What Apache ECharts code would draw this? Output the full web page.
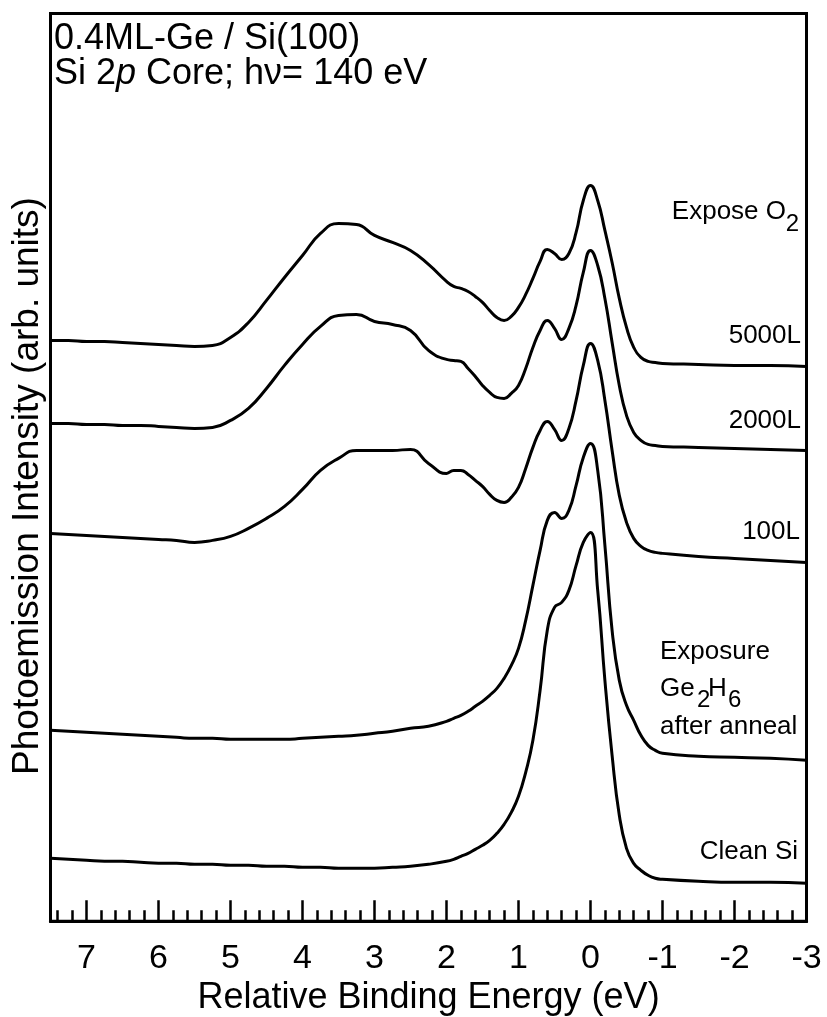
<!DOCTYPE html>
<html>
<head>
<meta charset="utf-8">
<script src="https://cdn.jsdelivr.net/npm/echarts@6/dist/echarts.min.js"></script>
<style>
  html, body { margin: 0; padding: 0; background: #fff; }
  #chart { width: 827px; height: 1017px; }
</style>
</head>
<body>
<div id="chart"></div>
<script>
// Relative binding energy (eV) sampling shared by all spectra
const energy = [
  7.5, 7.25, 7.0, 6.75, 6.5, 6.25, 6.0, 5.75, 5.5, 5.25, 5.0, 4.75, 4.5, 4.25, 4.0, 3.75,
  3.5, 3.25, 3.0, 2.75, 2.5, 2.25,
  2.0, 1.9, 1.8, 1.7, 1.6, 1.5, 1.4, 1.3, 1.2, 1.1, 1.0,
  0.9, 0.8, 0.7, 0.6, 0.5, 0.4, 0.3, 0.2, 0.1, 0.0,
  -0.1, -0.2, -0.3, -0.4, -0.5, -0.6, -0.7, -0.8, -0.9, -1.0,
  -1.5, -2.0, -2.5, -3.0
];

// Si 2p intensities (arb. units, vertically offset), one per exposure step
const int5000L = [
  581, 581, 580, 580, 579, 578, 577, 576, 575, 576, 584, 599, 621, 644, 666, 688,
  698, 697, 686, 679, 671, 657,
  640, 635, 633, 630, 625, 619, 611, 604, 601, 605, 614,
  627, 643, 660, 672, 668, 662, 668, 689, 721, 736,
  721, 691, 659, 623, 594, 574, 564, 560, 559, 558,
  557, 556, 556, 555
];
const int2000L = [
  498, 498, 497, 497, 496, 496, 495, 494, 493, 494, 501, 513, 533, 556, 577, 595,
  606, 607, 600, 597, 591, 571,
  562, 561, 560, 553, 545, 536, 529, 524, 523, 528, 536,
  553, 574, 591, 601, 593, 582, 593, 616, 649, 671,
  656, 623, 579, 536, 506, 489, 481, 477, 476, 475,
  474, 473, 472, 471
];
const int100L = [
  388, 387, 386, 385, 384, 383, 382, 381, 379, 381, 385, 393, 403, 415, 432, 451,
  463, 471, 471, 471, 472, 458,
  448, 451, 451, 447, 441, 435, 427, 421, 419, 424, 434,
  453, 474, 491, 500, 492, 481, 493, 521, 556, 578,
  561, 521, 471, 426, 399, 383, 375, 371, 369, 368,
  365, 363, 361, 359
];
const intGe2H6 = [
  191, 190, 189, 188, 187, 186, 185, 184, 183, 183, 182, 182, 182, 182, 183, 184,
  185, 186, 188, 190, 193, 195,
  200, 203, 206, 210, 215, 220, 226, 233, 243, 256, 273,
  301, 336, 371, 401, 409, 403, 411, 436, 464, 478,
  451, 376, 291, 241, 216, 201, 186, 176, 171, 168,
  165, 164, 163, 161
];
const intCleanSi = [
  63, 62, 61, 60, 60, 59, 58, 58, 57, 57, 56, 56, 55, 55, 54, 54,
  53, 53, 53, 54, 55, 57,
  60, 62, 65, 68, 72, 76, 81, 88, 97, 109, 125,
  149, 181, 231, 291, 314, 319, 331, 356, 379, 389,
  331, 241, 166, 106, 73, 58, 51, 46, 43, 42,
  40, 39, 39, 38
];

// energy axis range and tick steps
const energyMin = -3;
const energyMax = 7.5;
const majorStep = 1;
const minorStep = 0.2;

const FONT = '"Liberation Sans", Arial, Helvetica, sans-serif';

const chart = echarts.init(document.getElementById('chart'), null, { renderer: 'canvas' });

const lineSeries = [int5000L, int2000L, int100L, intGe2H6, intCleanSi].map(vals => ({
  type: 'line',
  data: energy.map((e, i) => [e, vals[i]]),
  xAxisIndex: 0,
  yAxisIndex: 0,
  showSymbol: false,
  smooth: 0.5,
  silent: true,
  lineStyle: { color: '#000', width: 3, join: 'round', cap: 'round' }
}));

function label(text, x, y, size, align, extra) {
  return Object.assign({
    type: 'text',
    x: x, y: y,
    silent: true,
    style: {
      text: text,
      fill: '#000',
      font: size + 'px ' + FONT,
      textAlign: align,
      textVerticalAlign: 'middle'
    }
  }, extra || {});
}

chart.setOption({
  animation: false,
  backgroundColor: '#fff',
  grid: {
    left: 50.5, right: 20.5, top: 13.5, bottom: 95.7,
    containLabel: false, outerBoundsMode: 'none',
    show: true, borderColor: '#000', borderWidth: 3, backgroundColor: 'transparent'
  },
  xAxis: [
    {
      type: 'value',
      min: energyMin, max: energyMax, interval: majorStep, inverse: true,
      position: 'bottom',
      name: 'Relative Binding Energy (eV)',
      nameLocation: 'middle',
      nameGap: 59,
      nameTextStyle: { color: '#000', fontSize: 36, fontFamily: FONT },
      axisLine: { show: true, lineStyle: { color: '#000', width: 3 } },
      axisTick: { show: true, inside: true, length: 21, lineStyle: { color: '#000', width: 2.5 } },
      axisLabel: {
        show: true, margin: 20, color: '#000', fontSize: 34, fontFamily: FONT,
        showMaxLabel: false, showMinLabel: true
      },
      splitLine: { show: false }
    },
    {
      type: 'value',
      min: energyMin, max: energyMax, interval: minorStep, inverse: true,
      position: 'bottom',
      axisLine: { show: false },
      axisTick: { show: true, inside: true, length: 11, lineStyle: { color: '#000', width: 2.5 } },
      axisLabel: { show: false },
      splitLine: { show: false }
    }
  ],
  yAxis: {
    type: 'value', min: 0, max: 908,
    axisLine: { show: false }, axisTick: { show: false },
    axisLabel: { show: false }, splitLine: { show: false }
  },
  series: lineSeries,
  graphic: [
    label('0.4ML-Ge / Si(100)', 54, 39, 36, 'left'),
    {
      type: 'text', x: 54, y: 74, silent: true,
      style: {
        text: '{n|Si 2}{i|p}{n| Core; hν= 140 eV}',
        textAlign: 'left', textVerticalAlign: 'middle',
        rich: {
          n: { fontSize: 36, fontFamily: FONT, fill: '#000', color: '#000' },
          i: { fontSize: 36, fontFamily: FONT, fontStyle: 'italic', fill: '#000', color: '#000' }
        }
      }
    },
    label('Photoemission Intensity (arb. units)', 28, 486, 37, 'center', { rotation: Math.PI / 2 }),
    label('Expose O', 786, 212, 26, 'right'),
    label('2', 799, 224, 24, 'right'),
    label('5000L', 801, 336, 26, 'right'),
    label('2000L', 801, 421, 26, 'right'),
    label('100L', 800, 532, 26, 'right'),
    label('Exposure', 660, 652, 26, 'left'),
    label('Ge', 660, 689, 26, 'left'),
    label('2', 697, 700, 24, 'left'),
    label('H', 708, 689, 26, 'left'),
    label('6', 728, 700, 24, 'left'),
    label('after anneal', 660, 727, 26, 'left'),
    label('Clean Si', 798, 852, 26, 'right')
  ]
});
</script>
</body>
</html>
